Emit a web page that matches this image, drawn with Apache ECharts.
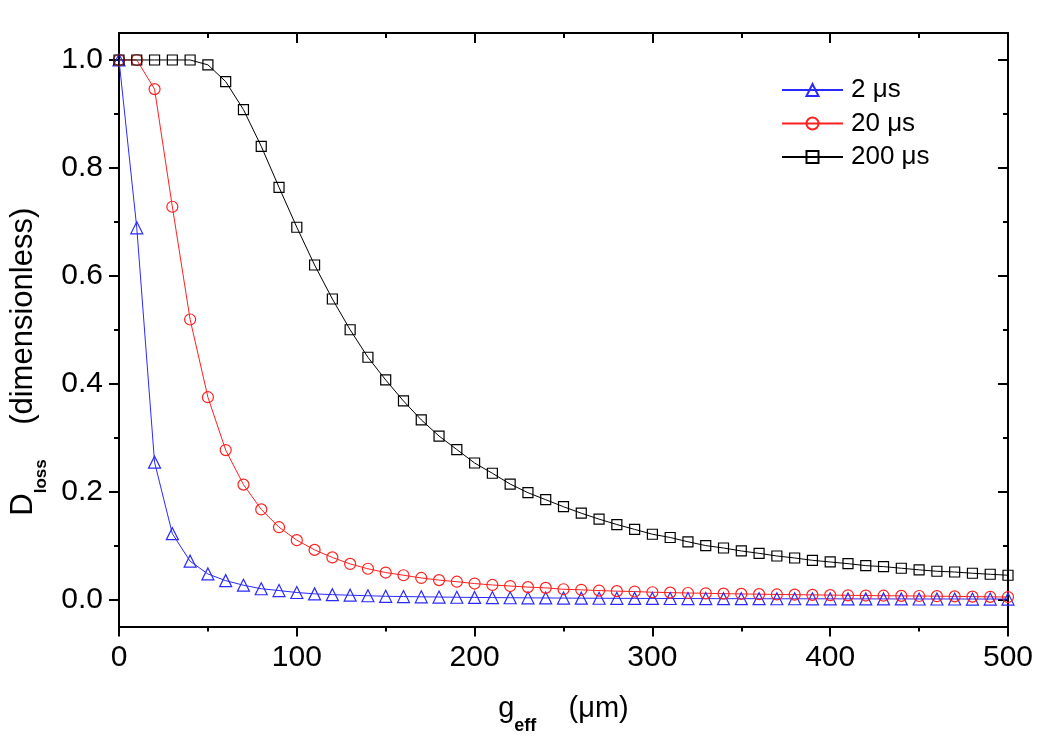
<!DOCTYPE html>
<html>
<head>
<meta charset="utf-8">
<script src="https://cdn.jsdelivr.net/npm/echarts@6/dist/echarts.min.js"></script>
<style>html,body{margin:0;padding:0;background:#fff;}#c{width:1050px;height:740px;}</style>
</head>
<body>
<div id="c"></div>
<script>
var gValues = [0,10,20,30,40,50,60,70,80,90,100,110,120,130,140,150,160,170,180,190,200,210,220,230,240,250,260,270,280,290,300,310,320,330,340,350,360,370,380,390,400,410,420,430,440,450,460,470,480,490,500];
var loss2us = [1,0.689,0.2545,0.122,0.071,0.0474,0.035,0.0265,0.020,0.0166,0.013,0.0105,0.009,0.008,0.007,0.006,
  0.0055,0.005,0.0046,0.0042,0.0039,0.0036,0.0033,0.0031,0.0029,0.0027,0.0025,0.0024,0.0022,0.0021,0.002,
  0.0019,0.0018,0.0017,0.0016,0.0016,0.0015,0.0014,0.0014,0.0013,0.0013,0.0012,0.0012,0.0011,0.0011,0.001,
  0.001,0.001,0.0009,0.0009,0.0009];
var loss20us = [1,1,0.946,0.728,0.519,0.375,0.277,0.213,0.167,0.134,0.110,0.092,0.078,0.066,0.057,0.050,0.045,0.040,0.036,0.033,0.0296,0.027,0.025,0.023,0.0216,0.019,0.018,0.0166,0.0155,0.0148,
  0.0135,0.0128,0.0121,0.0115,0.0109,0.0104,0.0099,0.0094,0.0090,0.0086,0.0082,0.0078,0.0074,0.0071,0.0068,0.0065,0.0062,0.0058,0.0054,0.005,0.0046];
var loss200us = [1,1,1,1,1,0.991,0.960,0.908,0.840,0.764,0.690,0.620,0.557,0.500,0.449,0.407,0.368,0.333,0.303,0.278,0.253,0.234,0.214,0.198,0.185,0.172,0.160,0.149,0.139,0.130,0.121,0.115,0.107,0.100,0.0955,0.090,0.0856,0.0807,0.077,0.0727,0.0696,0.0665,0.0628,0.061,0.058,0.055,0.0524,0.051,0.0487,0.0468,0.045];
var seriesNames = ['2 μs','20 μs','200 μs'];
var yMajorTicks = [0, 0.2, 0.4, 0.6, 0.8, 1.0];
var yMinorTicks = [0.1, 0.3, 0.5, 0.7, 0.9];

var FONT = "'Liberation Sans', Arial, sans-serif";
function pairs(ys){ return gValues.map(function(x,i){ return [x, ys[i]]; }); }

var chart = echarts.init(document.getElementById('c'), null, {renderer:'canvas'});
var black = '#000';
var axisLineStyle = {show:true, onZero:false, lineStyle:{color:black, width:2}};

function mkSeries(name, data, color, symbol, size){
  return {
    name: name, type:'line', data: pairs(data), xAxisIndex:0, yAxisIndex:0,
    symbol: symbol, symbolSize: size, showAllSymbol: true, clip: true,
    lineStyle:{color:color, width:1},
    itemStyle:{color:'rgba(0,0,0,0)', borderColor:color, borderWidth:1.2},
    emphasis:{disabled:true}, animation:false
  };
}

var option = {
  animation:false,
  backgroundColor:'#fff',
  grid:{left:116, right:42, top:33, bottom:112, containLabel:false},
  legend:{
    orient:'vertical', left:781, top:77, padding:0, itemWidth:61, itemHeight:15, itemGap:7.5,
    data: seriesNames,
    textStyle:{fontFamily:FONT, fontSize:26, color:black, padding:[0,0,0,3]},
    selectedMode:false
  },
  xAxis:[
    {type:'value', position:'bottom', min:0, max:500, interval:100,
     axisLine:axisLineStyle,
     axisTick:{show:true, inside:false, length:10, lineStyle:{color:black, width:2}},
     minorTick:{show:true, splitNumber:2, length:5, lineStyle:{color:black, width:2}},
     axisLabel:{fontFamily:FONT, fontSize:30, color:black, margin:16},
     splitLine:{show:false}, minorSplitLine:{show:false},
     name:'{a|g}{b|eff}{a|    (μm)}', nameLocation:'middle', nameGap:68,
     nameTextStyle:{fontFamily:FONT, color:black, padding:[0,0,0,0],
       rich:{a:{fontFamily:FONT, fontSize:29, lineHeight:30, verticalAlign:'top', color:black},
             b:{fontFamily:FONT, fontSize:18, fontWeight:'bold', lineHeight:63, verticalAlign:'middle', color:black}}}
    },
    {type:'value', position:'top', min:0, max:500, interval:100,
     axisLine:axisLineStyle,
     axisTick:{show:true, inside:true, length:10, lineStyle:{color:black, width:2}},
     minorTick:{show:true, splitNumber:2, length:5, lineStyle:{color:black, width:2}},
     axisLabel:{show:false}, splitLine:{show:false}
    }
  ],
  yAxis:[
    {type:'value', position:'left', min:-0.05, max:1.05,
     axisLine:axisLineStyle,
     axisTick:{show:true, inside:false, length:10, customValues:yMajorTicks, lineStyle:{color:black, width:2}},
     axisLabel:{fontFamily:FONT, fontSize:30, color:black, margin:16, customValues:yMajorTicks,
       formatter:function(v){ return v.toFixed(1); }},
     splitLine:{show:false},
     name:'{a|D}{b|loss}{a|    (dimensionless)}', nameLocation:'middle', nameGap:44,
     nameTextStyle:{fontFamily:FONT, color:black, padding:[0,64,0,0],
       rich:{a:{fontFamily:FONT, fontSize:31, lineHeight:32, verticalAlign:'top', color:black},
             b:{fontFamily:FONT, fontSize:17, fontWeight:'bold', lineHeight:67, verticalAlign:'middle', color:black}}}
    },
    {type:'value', position:'left', min:-0.05, max:1.05,
     axisLine:{show:false, onZero:false},
     axisTick:{show:true, inside:false, length:5, customValues:yMinorTicks, lineStyle:{color:black, width:2}},
     axisLabel:{show:false}, splitLine:{show:false}
    },
    {type:'value', position:'right', min:-0.05, max:1.05,
     axisLine:axisLineStyle,
     axisTick:{show:true, inside:true, length:10, customValues:yMajorTicks, lineStyle:{color:black, width:2}},
     axisLabel:{show:false}, splitLine:{show:false}
    },
    {type:'value', position:'right', min:-0.05, max:1.05,
     axisLine:{show:false, onZero:false},
     axisTick:{show:true, inside:true, length:5, customValues:yMinorTicks, lineStyle:{color:black, width:2}},
     axisLabel:{show:false}, splitLine:{show:false}
    }
  ],
  series:[
    mkSeries(seriesNames[0], loss2us, '#2a2aff', 'triangle', 12),
    mkSeries(seriesNames[1], loss20us, '#ff2020', 'circle', 11),
    mkSeries(seriesNames[2], loss200us, '#000000', 'rect', 10)
  ]
};
chart.setOption(option);
</script>
</body>
</html>
